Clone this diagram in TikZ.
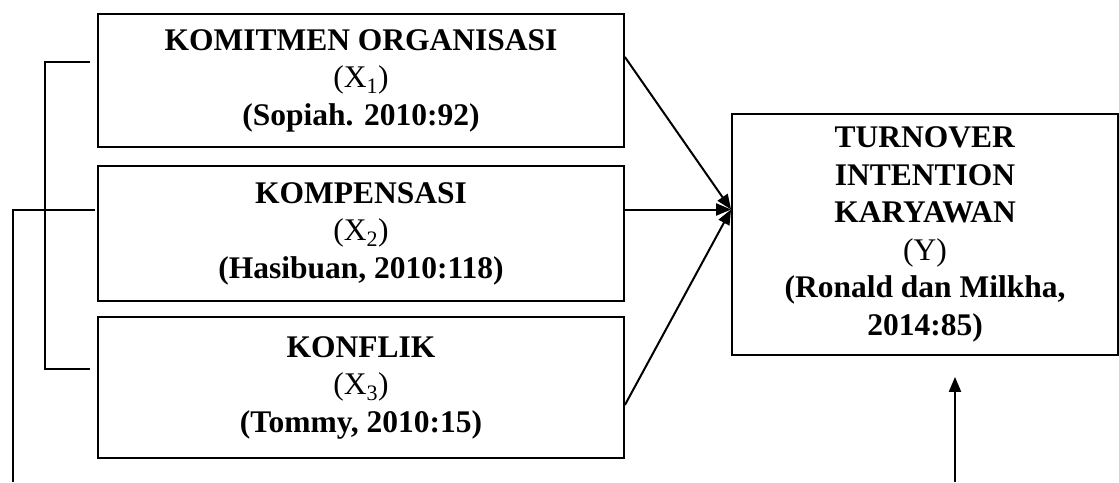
\documentclass[tikz,border=0pt]{standalone}
\usepackage{fontspec}
\setmainfont{Liberation Serif}
\usetikzlibrary{arrows.meta}

\begin{document}
\begin{tikzpicture}[x=1pt,y=-1pt,
  varbox/.style={draw=black, line width=1.8pt, align=center, inner sep=0pt,
    font=\fontsize{31.5}{37.5}\selectfont},
  link/.style={draw=black, line width=2pt},
  arrowhead/.style={-{Triangle[length=15pt,width=12pt]}}]
  \useasboundingbox (0,0) rectangle (1119,482);
  % independent variables
  \node [varbox, minimum width=526pt, minimum height=133pt] (x1) at (361,80.5)
    {\textbf{KOMITMEN ORGANISASI}\\(X\textsubscript{1})\\\textbf{(Sopiah. 2010:92)}};
  \node [varbox, minimum width=526pt, minimum height=135pt] (x2) at (361,233.5)
    {\textbf{KOMPENSASI}\\(X\textsubscript{2})\\\textbf{(Hasibuan, 2010:118)}};
  \node [varbox, minimum width=526pt, minimum height=141pt] (x3) at (361,387.5)
    {\textbf{KONFLIK}\\(X\textsubscript{3})\\\textbf{(Tommy, 2010:15)}};
  % dependent variable
  \node [varbox, minimum width=386pt, minimum height=241pt] (y) at (925,234.5)
    {\textbf{TURNOVER}\\\textbf{INTENTION}\\\textbf{KARYAWAN}\\(Y)\\\textbf{(Ronald dan Milkha,}\\\textbf{2014:85)}};
  \coordinate (tip) at ([yshift=25pt]y.west);
  % partial links
  \draw [link, arrowhead] ([yshift=23.5pt]x1.east) -- (tip);
  \draw [link, arrowhead] ([yshift=24pt]x2.east) -- (tip);
  \draw [link, arrowhead] ([yshift=-17.5pt]x3.east) -- (tip);
  % simultaneous link
  \draw [link] ([xshift=-7pt,yshift=18.5pt]x1.west) -- (45,62) -- (45,369)
    -- ([xshift=-7pt,yshift=18.5pt]x3.west);
  \coordinate (low) at (13,482);
  \draw [link] ([xshift=-2pt,yshift=23.5pt]x2.west) -- (low |- 210,210) -- (low);
  \coordinate (up) at (955,482);
  \draw [link, arrowhead] (up) -- ([xshift=30pt,yshift=-21pt]y.south);
\end{tikzpicture}
\end{document}
